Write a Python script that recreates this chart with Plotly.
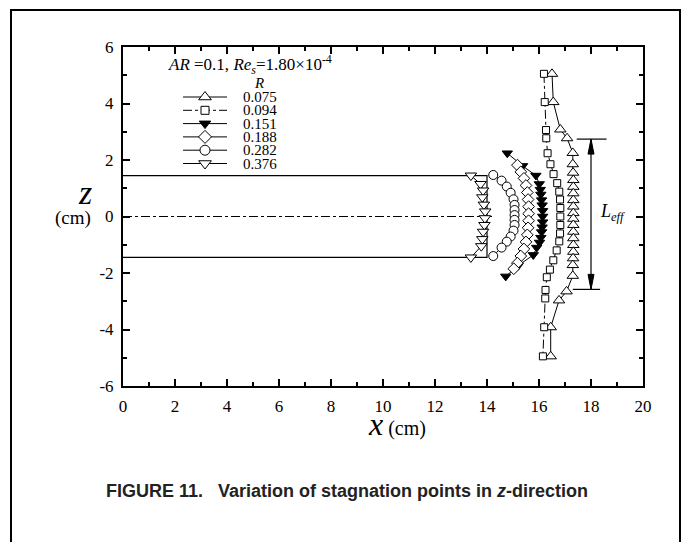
import plotly.graph_objects as go

# ---------------- data ----------------
R_labels = ["0.075", "0.094", "0.151", "0.188", "0.282", "0.376"]

x_075 = [16.50, 16.55, 16.82, 17.08, 17.30, 17.30, 17.31, 17.32, 17.32, 17.32, 17.32, 17.32, 17.32,
         17.32, 17.32, 17.32, 17.32, 17.32, 17.32, 17.31, 17.30, 17.30, 17.06, 16.77, 16.45, 16.45]
z_075 = [5.05, 4.05, 3.08, 2.77, 2.25, 1.85, 1.55, 1.29, 1.05, 0.82, 0.58, 0.35, 0.12,
         -0.08, -0.30, -0.54, -0.77, -1.01, -1.25, -1.48, -1.72, -2.10, -2.65, -2.97, -3.92, -4.95]

x_094 = [16.19, 16.22, 16.27, 16.28, 16.33, 16.44, 16.56, 16.70, 16.78, 16.81, 16.82, 16.82, 16.82,
         16.81, 16.78, 16.68, 16.55, 16.42, 16.30, 16.25, 16.24, 16.20, 16.15]
z_094 = [5.05, 4.05, 3.06, 2.77, 2.24, 1.85, 1.50, 1.18, 0.88, 0.60, 0.30, 0.00, -0.30,
         -0.60, -0.88, -1.20, -1.55, -1.88, -2.15, -2.60, -2.90, -3.92, -4.95]

x_151 = [14.78, 15.37, 15.88, 16.01, 16.05, 16.07, 16.10, 16.12, 16.14, 16.14, 16.14, 16.12,
         16.10, 16.07, 16.02, 15.91, 15.78, 15.20, 14.72]
z_151 = [2.24, 1.79, 1.45, 1.15, 0.95, 0.78, 0.58, 0.40, 0.20, 0.00, -0.20, -0.38,
         -0.55, -0.75, -0.92, -1.10, -1.36, -1.74, -2.12]

x_188 = [15.17, 15.30, 15.42, 15.50, 15.55, 15.58, 15.60, 15.60, 15.60, 15.58, 15.55, 15.50,
         15.42, 15.30, 15.17, 15.03]
z_188 = [1.82, 1.58, 1.35, 1.10, 0.85, 0.60, 0.35, 0.10, -0.15, -0.40, -0.65, -0.90,
         -1.15, -1.40, -1.65, -1.85]

x_282 = [14.24, 14.56, 14.76, 14.91, 15.02, 15.06, 15.06, 15.06, 15.06, 15.06, 15.02, 14.91,
         14.76, 14.56, 14.24]
z_282 = [1.47, 1.27, 1.06, 0.84, 0.61, 0.41, 0.23, 0.05, -0.12, -0.30, -0.50, -0.71,
         -0.89, -1.10, -1.40]

x_376 = [13.38, 13.75, 13.85, 13.82, 13.88, 13.93, 13.92, 13.90, 13.85, 13.82, 13.78, 13.38]
z_376 = [1.45, 1.15, 0.92, 0.68, 0.42, 0.18, -0.06, -0.30, -0.54, -0.80, -1.05, -1.45]

series_x = [x_075, x_094, x_151, x_188, x_282, x_376]
series_z = [z_075, z_094, z_151, z_188, z_282, z_376]

# geometry of the body and centre line
body_x = [0, 14.0, 14.0, 0]
body_z = [1.45, 1.45, -1.45, -1.45]
center_x = [0, 14.3]
center_z = [0, 0]

# L_eff marker
leff_x = 18.0
leff_top, leff_bot = 2.74, -2.58
leff_top_bar = [17.45, 18.6]
leff_bot_bar = [17.3, 18.35]

x_ticks = list(range(0, 21, 2))
x_tick_text = [str(v) for v in x_ticks]
y_ticks = list(range(-6, 7, 2))
y_tick_text = ["-6", "-4", "-2", "0", "2", "4", "6"]

# ---------------- layout constants ----------------
W, H = 688, 542
ML, MR, MT, MB = 123, 45, 47, 156
PW = W - ML - MR
PH = H - MT - MB
X0, X1 = 0, 20
Y0, Y1 = -6, 6
UX = PW / (X1 - X0)   # px per x unit
UY = PH / (Y1 - Y0)   # px per y unit


def dxp(px):
    return X0 + (px - ML) / UX


def dyp(py):
    return Y1 - (py - MT) / UY


def pxp(px):
    return (px - ML) / PW


def pyp(py):
    return (H - MB - py) / PH


SERIF = "Liberation Serif"
styles = [
    dict(symbol="triangle-up", size=10, lsize=11, color="white", dash="solid"),
    dict(symbol="square", size=7, lsize=8, color="white", dash="dashdot"),
    dict(symbol="triangle-down", size=9, lsize=10, color="black", dash="solid"),
    dict(symbol="diamond", size=9, lsize=10, color="white", dash="solid"),
    dict(symbol="circle", size=9, lsize=10, color="white", dash="solid"),
    dict(symbol="triangle-down", size=10, lsize=11, color="white", dash="solid"),
]

fig = go.Figure()

# body outline and centre line
fig.add_trace(go.Scatter(x=body_x, y=body_z, mode="lines",
                         line=dict(color="black", width=1.2), showlegend=False, hoverinfo="skip"))
fig.add_trace(go.Scatter(x=center_x, y=center_z, mode="lines",
                         line=dict(color="black", width=1, dash="dashdot"), showlegend=False, hoverinfo="skip"))

# series
for xs, zs, st in zip(series_x, series_z, styles):
    fig.add_trace(go.Scatter(
        x=xs, y=zs, mode="lines+markers",
        line=dict(color="black", width=1, dash=st["dash"]),
        marker=dict(symbol=st["symbol"], size=st["size"], color=st["color"],
                    line=dict(color="black", width=1)),
        showlegend=False, cliponaxis=False))

# L_eff dimension line with bars and narrow filled arrowheads
fig.add_trace(go.Scatter(x=leff_top_bar, y=[leff_top, leff_top], mode="lines",
                         line=dict(color="black", width=1.2), showlegend=False))
fig.add_trace(go.Scatter(x=leff_bot_bar, y=[leff_bot, leff_bot], mode="lines",
                         line=dict(color="black", width=1.2), showlegend=False))
fig.add_trace(go.Scatter(x=[leff_x, leff_x], y=[leff_top, leff_bot], mode="lines",
                         line=dict(color="black", width=1.2), showlegend=False))
hw, hl = 3.0 / UX, 15.0 / UY
for tip, sgn in ((leff_top, -1), (leff_bot, 1)):
    fig.add_trace(go.Scatter(
        x=[leff_x, leff_x - hw, leff_x + hw, leff_x],
        y=[tip, tip + sgn * hl, tip + sgn * hl, tip],
        mode="lines", fill="toself", fillcolor="black",
        line=dict(color="black", width=1), showlegend=False))

# manual legend
row0, rstep = 97.0, 13.3
for i, (lab, st) in enumerate(zip(R_labels, styles)):
    ry = dyp(row0 + i * rstep)
    fig.add_trace(go.Scatter(
        x=[dxp(183), dxp(227)], y=[ry, ry], mode="lines",
        line=dict(color="black", width=1, dash=st["dash"]), showlegend=False))
    fig.add_trace(go.Scatter(
        x=[dxp(205)], y=[ry], mode="markers",
        marker=dict(symbol=st["symbol"], size=st["lsize"], color=st["color"],
                    line=dict(color="black", width=1)),
        showlegend=False))

annotations = []
for i, lab in enumerate(R_labels):
    annotations.append(dict(x=pxp(242), y=pyp(row0 + i * rstep), xref="paper", yref="paper",
                            text=lab, showarrow=False, xanchor="left", yanchor="middle",
                            borderpad=0, font=dict(family=SERIF, size=15, color="black")))
annotations.append(dict(x=pxp(259), y=pyp(83), xref="paper", yref="paper", text="<i>R</i>",
                        showarrow=False, xanchor="center", yanchor="middle", borderpad=0,
                        font=dict(family=SERIF, size=15, color="black")))
annotations.append(dict(x=pxp(167), y=pyp(65), xref="paper", yref="paper",
                        text="<i>AR</i> =0.1, <i>Re</i><sub><i>s</i></sub>=1.80×10<sup>-4</sup>",
                        showarrow=False, xanchor="left", yanchor="middle", borderpad=0,
                        font=dict(family=SERIF, size=17, color="black")))

annotations.append(dict(x=dxp(598), y=dyp(212), xref="x", yref="y", xanchor="left",
                        text="<i>L</i><sub><i>eff</i></sub>", showarrow=False,
                        font=dict(family=SERIF, size=18, color="black")))

# axis titles
annotations.append(dict(x=pxp(77), y=pyp(192), xref="paper", yref="paper", text="<i>z</i>",
                        showarrow=False, borderpad=0,
                        font=dict(family=SERIF, size=34, color="black")))
annotations.append(dict(x=pxp(92), y=pyp(218), xref="paper", yref="paper", text="(cm)",
                        showarrow=False, xanchor="right", borderpad=0,
                        font=dict(family=SERIF, size=19, color="black")))
annotations.append(dict(x=pxp(397), y=pyp(443), xref="paper", yref="paper",
                        text="<span style='font-size:32px'><i>x</i></span> (cm)",
                        showarrow=False, borderpad=0,
                        font=dict(family=SERIF, size=20, color="black")))

# caption
annotations.append(dict(x=pxp(347), y=pyp(503), xref="paper", yref="paper",
                        text="<b>FIGURE 11.&nbsp;&nbsp; Variation of stagnation points in <i>z</i>-direction</b>",
                        showarrow=False, font=dict(family="Liberation Sans", size=18, color="#222")))

axis_common = dict(
    ticks="inside", ticklen=7, tickwidth=1.5, tickcolor="black",
    showline=True, linewidth=2, linecolor="black", mirror="allticks",
    showgrid=False, zeroline=False, ticklabelstandoff=4,
    tickfont=dict(family=SERIF, size=17, color="black"),
)
minor_common = dict(tickmode="linear", tick0=0, dtick=1, ticks="inside", ticklen=4,
                    tickwidth=1.5, tickcolor="black")

fig.update_layout(
    width=W, height=H,
    margin=dict(l=ML, r=MR, t=MT, b=MB, pad=0),
    paper_bgcolor="white", plot_bgcolor="white",
    showlegend=False,
    xaxis=dict(range=[X0, X1], tickmode="array", tickvals=x_ticks, ticktext=x_tick_text,
               minor=minor_common, **axis_common),
    yaxis=dict(range=[Y0, Y1], tickmode="array", tickvals=y_ticks, ticktext=y_tick_text,
               minor=minor_common, **axis_common),
    annotations=annotations,
    shapes=[dict(type="rect", xref="paper", yref="paper",
                 x0=pxp(11), x1=pxp(680), y0=pyp(10), y1=pyp(600),
                 line=dict(color="black", width=2))],
)

fig.write_html("out.html")
